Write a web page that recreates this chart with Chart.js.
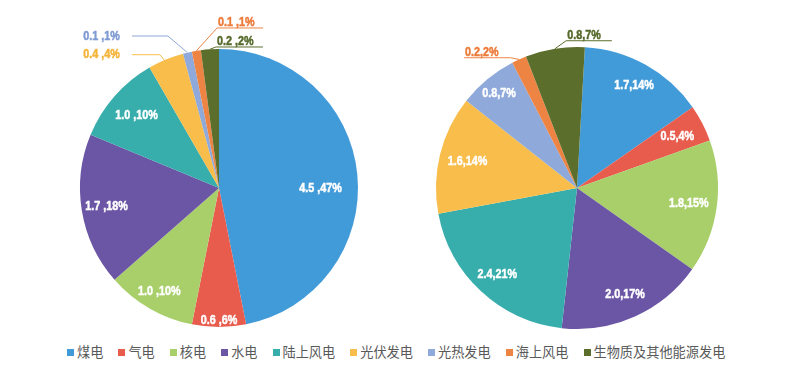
<!DOCTYPE html>
<html>
<head>
<meta charset="utf-8">
<script src="https://cdn.jsdelivr.net/npm/chart.js@4.4.1/dist/chart.umd.min.js"></script>
<style>
  body { margin: 0; background: #fff; }
  #wrap { position: relative; width: 800px; height: 372px; overflow: hidden; background: #fff; }
  #wrap canvas { position: absolute; top: 0; }
  #legend { position: absolute; top: 344px; left: 67px; display: flex; white-space: nowrap;
            font: 13.2px/16px "Noto Sans CJK SC", sans-serif; color: #595959; }
  #legend .item { display: flex; align-items: center; margin-right: 15px; }
  #legend .box { width: 7px; height: 7px; margin-right: 3px; }
</style>
</head>
<body>
<div id="wrap">
  <canvas id="leftPie" width="400" height="340" style="left:0;width:400px;height:340px"></canvas>
  <canvas id="rightPie" width="400" height="340" style="left:400px;width:400px;height:340px"></canvas>
  <div id="legend"></div>
</div>
<script>
// categories and values
const categories = ['煤电', '气电', '核电', '水电', '陆上风电', '光伏发电', '光热发电', '海上风电', '生物质及其他能源发电'];
const leftValues = [4.5, 0.6, 1.0, 1.7, 1.0, 0.4, 0.1, 0.1, 0.2];
const leftPercents = [47, 6, 10, 18, 10, 4, 1, 1, 2];
const rightValues = [1.7, 0.5, 1.8, 2.0, 2.4, 1.6, 0.8, 0.2, 0.8];
const rightPercents = [14, 4, 15, 17, 21, 14, 7, 2, 7];

const colors = ['#429bd9', '#e85c4e', '#a8cf6a', '#6b56a5', '#37adac', '#f8bd4a', '#8ea9da', '#ee8443', '#5b6e2c'];
const labelColors = { 5: '#f4b43a', 6: '#7f9bd3', 7: '#ec7a3a', 8: '#55692a' };

// where each label goes: inside -> radius factor; outside -> leader line offsets
const leftPlaces = [
    { r: 0.73, da: 6 },
    { r: 0.95 },
    { r: 0.86 },
    { r: 0.82 },
    { r: 0.79 },
    { out: 'left', r: 0.96, elbow: [-8, -10], end: -36 },
    { out: 'left', r: 1, elbow: [-19.5, -16.6], end: -55.5 },
    { out: 'above', r: 1, elbow: [20.7, -22.9], end: 66.7 },
    { out: 'above', r: 1, elbow: [6, -2.3], end: 53 }
];
const rightPlaces = [
    { r: 0.83 },
    { r: 0.8 },
    { r: 0.8 },
    { r: 0.83 },
    { r: 0.83 },
    { r: 0.8 },
    { r: 0.87 },
    { out: 'above', r: 1, elbow: [-8.4, -1.7], end: -55 },
    { out: 'above', r: 1, elbow: [11.2, -8], end: 56.9 }
];

const LABEL_FONT = 'bold 13.5px "Liberation Sans", Arial, sans-serif';
const NARROW = 0.8;

// condensed, slightly heavier text: squeeze horizontally around the anchor
function narrowText(ctx, text, x, y, align) {
    ctx.save();
    ctx.translate(x, y);
    ctx.scale(NARROW, 1);
    ctx.textAlign = align;
    ctx.lineWidth = 0.5;
    ctx.strokeStyle = ctx.fillStyle;
    ctx.fillText(text, 0, 0);
    ctx.strokeText(text, 0, 0);
    ctx.restore();
}

const sliceLabels = {
    id: 'sliceLabels',
    afterDatasetsDraw(chart, args, opts) {
        const ctx = chart.ctx;
        const meta = chart.getDatasetMeta(0);
        meta.data.forEach((arc, i) => {
            const p = arc.getProps(['x', 'y', 'startAngle', 'endAngle', 'outerRadius'], true);
            const mid = (p.startAngle + p.endAngle) / 2;
            const text = opts.values[i].toFixed(1) + opts.sep + opts.percents[i] + '%';
            const place = opts.places[i];
            ctx.save();
            ctx.font = LABEL_FONT;
            if (place.out) {
                const r = p.outerRadius * place.r;
                const ax = p.x + Math.cos(mid) * r, ay = p.y + Math.sin(mid) * r;
                const ex = ax + place.elbow[0], ey = ay + place.elbow[1];
                const tx = ax + place.end;
                ctx.strokeStyle = colors[i];
                ctx.lineWidth = 1;
                ctx.beginPath();
                ctx.moveTo(ax, ay);
                ctx.lineTo(ex, ey);
                ctx.lineTo(tx, ey);
                ctx.stroke();
                ctx.fillStyle = labelColors[i];
                if (place.out === 'left') {
                    ctx.textBaseline = 'middle';
                    narrowText(ctx, text, Math.min(ex, tx) - 12, ey, 'right');
                } else {
                    ctx.textBaseline = 'alphabetic';
                    narrowText(ctx, text, Math.min(ex, tx) + 1, ey - 2, 'left');
                }
            } else {
                const r = p.outerRadius * place.r;
                const a = mid + (place.da || 0) * Math.PI / 180;
                ctx.fillStyle = '#fff';
                ctx.textBaseline = 'middle';
                narrowText(ctx, text, p.x + Math.cos(a) * r, p.y + Math.sin(a) * r, 'center');
            }
            ctx.restore();
        });
    }
};

function makePie(id, values, percents, places, sep, rotation, padding) {
    return new Chart(document.getElementById(id), {
        type: 'pie',
        data: {
            labels: categories,
            datasets: [{ data: values, backgroundColor: colors, borderWidth: 0 }]
        },
        options: {
            responsive: false,
            animation: false,
            rotation: rotation,
            layout: { padding: padding },
            plugins: {
                legend: { display: false },
                tooltip: { enabled: false },
                sliceLabels: { values: values, percents: percents, places: places, sep: sep }
            }
        },
        plugins: [sliceLabels]
    });
}

makePie('leftPie', leftValues, leftPercents, leftPlaces, ' ,', 0,
    { left: 80, right: 42, top: 49, bottom: 13 });
makePie('rightPie', rightValues, rightPercents, rightPlaces, ',', 3.2,
    { left: 36, right: 82, top: 47, bottom: 11 });

// legend
let html = '';
categories.forEach((c, i) => {
    html += `<div class="item"><span class="box" style="background:${colors[i]}"></span>${c}</div>`;
});
document.getElementById('legend').innerHTML = html;
</script>
</body>
</html>
